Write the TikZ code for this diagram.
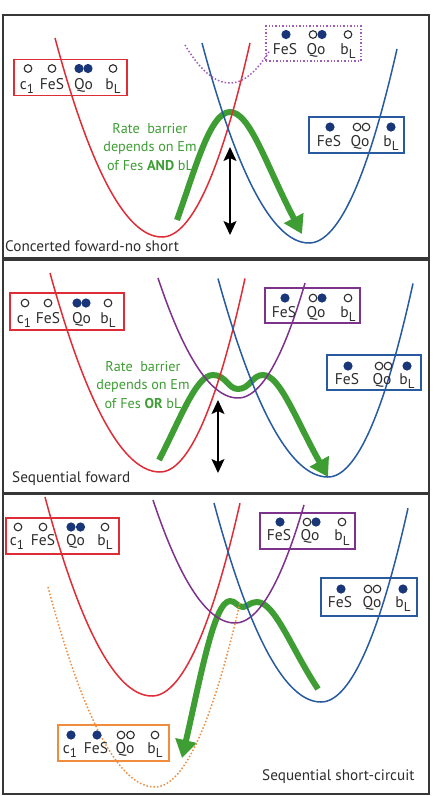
\documentclass[tikz,border=0pt]{standalone}
\usepackage{fontspec}
\setmainfont{PT Sans}
\usetikzlibrary{arrows.meta}
\definecolor{cred}{RGB}{222,45,55}
\definecolor{cblue}{RGB}{40,90,160}
\definecolor{cpurple}{RGB}{125,50,140}
\definecolor{cpurpled}{RGB}{160,90,185}
\definecolor{corange}{RGB}{240,140,60}
\definecolor{cgreen}{RGB}{62,158,52}
\definecolor{cnavy}{RGB}{25,55,120}
\definecolor{cframe}{RGB}{55,55,55}
\definecolor{ctext}{RGB}{45,45,45}
\newcommand\lowsub[1]{\raisebox{-0.32em}{\fontsize{13}{13}\selectfont #1}}
\newcommand\well[7]{\draw[#1] plot[domain=#4:#5, samples=90, smooth] ({#2+\x},{#3-ifthenelse(\x<0,#6,#7)*\x*\x});}
\newcommand\dotO[2]{\draw[opn] (#1,#2) circle (3.8pt);}
\newcommand\dotF[2]{\fill[cnavy] (#1,#2) circle (4.6pt);}
\tikzset{
 frame/.style={draw=cframe, line width=2pt},
 box/.style={line width=1.4pt, inner sep=0pt},
 lbl/.style={anchor=base, inner sep=0pt, text=ctext, font=\fontsize{15.5}{15.5}\selectfont},
 opn/.style={draw=ctext, line width=1.1pt},
 gtext/.style={text=cgreen, font=\fontsize{14.2}{18.4}\selectfont, align=center, inner sep=0pt},
 captxt/.style={text=ctext, font=\fontsize{15.2}{16}\selectfont, inner sep=0pt},
 curve/.style={line width=1.5pt},
 garrow/.style={draw=cgreen, line width=6pt, line join=round, -{Triangle[length=18pt,width=21pt]}},
 barrow/.style={black, line width=1.6pt, {Stealth[length=14pt,width=13pt,inset=3pt]}-{Stealth[length=14pt,width=13pt,inset=3pt]}},
}
\begin{document}
\begin{tikzpicture}[x=1pt,y=-1pt]
\useasboundingbox (0,0) rectangle (434,796);
\fill[white] (0,0) rectangle (434,796);
% frames
\draw[frame] (3,15) rectangle (429,258);
\draw[frame] (3,260) rectangle (429,493);
\draw[frame] (3,494) rectangle (429,794);

% ===== Panel 1 =====
\draw[garrow] (177,220) .. controls (195,170) and (210,112) .. (230,112) .. controls (250,112) and (266,165) .. (302,234);
\well{curve,cred}{162}{237}{-107}{88}{0.01738}{0.02505}
\well{curve,cblue}{309}{243}{-107}{88}{0.01747}{0.02505}
\well{curve,cpurpled,dotted}{230}{83}{-45}{40}{0.0188}{0.0206}
\coordinate (a1t) at (230,147);
\coordinate (a1b) at (230,235);
\draw[barrow] (a1t) -- (a1b);
\node[gtext] (g1) at (150,147) {Rate\ \ barrier\\depends on Em\\of Fes \textbf{AND} bL};
\node[captxt, anchor=base west] (cap1) at (5,251) {Concerted foward-no short};
% red box P1
\node[box, draw=cred, minimum width=113pt, minimum height=36pt] (r1) at (70.5,77.5) {};
\dotO{28}{68.5} \dotO{52}{68.5} \dotF{79}{68.5} \dotF{88}{68.5} \dotO{113}{68.5}
\node[lbl] (r1a) at (27,89) {c\lowsub{1}};
\node[lbl] (r1b) at (52,89) {FeS};
\node[lbl] (r1c) at (83.5,89) {Qo};
\node[lbl] (r1d) at (113,89) {b\lowsub{L}};
% purple dotted box P1
\node[box, draw=cpurpled, dotted, minimum width=95pt, minimum height=35pt] (p1) at (313.5,43.5) {};
\dotF{286}{34.5} \dotO{313}{34.5} \dotF{322}{34.5} \dotO{348}{34.5}
\node[lbl] (p1b) at (285,54) {FeS};
\node[lbl] (p1c) at (316,54) {Qo};
\node[lbl] (p1d) at (348,54) {b\lowsub{L}};
% blue box P1
\node[box, draw=cblue, minimum width=95pt, minimum height=36pt] (b1) at (356.5,135) {};
\dotF{330}{127} \dotO{357}{127} \dotO{366}{127} \dotF{391}{127}
\node[lbl] (b1b) at (329,146) {FeS};
\node[lbl] (b1c) at (360,146) {Qo};
\node[lbl] (b1d) at (391,146) {b\lowsub{L}};

% ===== Panel 2 =====
\draw[garrow] (159,460) .. controls (180,420) and (196,375) .. (213,375) .. controls (226,375) and (228,389) .. (238,389) .. controls (250,389) and (252,375) .. (263,375) .. controls (280,375) and (296,420) .. (328,477);
\well{curve,cred}{160}{472}{-110}{85}{0.01645}{0.0268}
\well{curve,cpurple}{238}{398}{-80}{67}{0.01875}{0.0256}
\well{curve,cblue}{328}{477}{-110}{85}{0.0164}{0.0268}
\coordinate (a2t) at (218,400);
\coordinate (a2b) at (218,473);
\draw[barrow] (a2t) -- (a2b);
\node[gtext] (g2) at (143,385) {Rate\ \ barrier\\depends on Em\\of Fes \textbf{OR} bL};
\node[captxt, anchor=base west] (cap2) at (12,482.5) {Sequential foward};
% red box P2
\node[box, draw=cred, minimum width=114pt, minimum height=37pt] (r2) at (67,311.5) {};
\dotO{25}{303} \dotO{48}{303} \dotF{77}{303} \dotF{86}{303} \dotO{108}{303}
\node[lbl] (r2a) at (24,323) {c\lowsub{1}};
\node[lbl] (r2b) at (48,323) {FeS};
\node[lbl] (r2c) at (81.5,323) {Qo};
\node[lbl] (r2d) at (108,323) {b\lowsub{L}};
% purple box P2
\node[box, draw=cpurple, minimum width=95pt, minimum height=35pt] (p2) at (312.5,305.5) {};
\dotF{285}{298} \dotO{313}{298} \dotF{322}{298} \dotO{348}{298}
\node[lbl] (p2b) at (284,317) {FeS};
\node[lbl] (p2c) at (316,317) {Qo};
\node[lbl] (p2d) at (348,317) {b\lowsub{L}};
% blue box P2
\node[box, draw=cblue, minimum width=94pt, minimum height=35pt] (b2) at (374,372.5) {};
\dotF{348}{366} \dotO{379}{366} \dotO{388}{366} \dotF{407}{366}
\node[lbl] (b2b) at (347,384) {FeS};
\node[lbl] (b2c) at (382,384) {Qo};
\node[lbl] (b2d) at (407,384) {b\lowsub{L}};

% ===== Panel 3 =====
\draw[garrow] (318,689) .. controls (292,650) and (275,602) .. (257,602) .. controls (250,602) and (247,607) .. (243,607) .. controls (237,607) and (236,601) .. (230,601) .. controls (214,601) and (200,680) .. (182,758);
\well{curve,cred}{152}{696}{-107}{88}{0.01738}{0.0249}
\well{curve,cpurple}{235}{623}{-82}{69}{0.0183}{0.0248}
\well{curve,cblue}{321}{702}{-107}{87}{0.01738}{0.0256}
\well{curve,corange,dotted}{155}{787}{-107}{85}{0.01747}{0.0255}
\node[captxt, anchor=base west] (cap3) at (262,780) {Sequential short-circuit};
% red box P3
\node[box, draw=cred, minimum width=113pt, minimum height=36pt] (r3) at (62.5,536) {};
\dotO{18}{527} \dotO{43}{527} \dotF{71}{527} \dotF{80.5}{527} \dotO{105}{527}
\node[lbl] (r3a) at (17,545) {c\lowsub{1}};
\node[lbl] (r3b) at (43,545) {FeS};
\node[lbl] (r3c) at (75.5,545) {Qo};
\node[lbl] (r3d) at (105,545) {b\lowsub{L}};
% purple box P3
\node[box, draw=cpurple, minimum width=95pt, minimum height=36pt] (p3) at (307.5,531) {};
\dotF{280}{522} \dotO{307}{522} \dotF{316}{522} \dotO{342}{522}
\node[lbl] (p3b) at (279,540.5) {FeS};
\node[lbl] (p3c) at (310,540.5) {Qo};
\node[lbl] (p3d) at (342,540.5) {b\lowsub{L}};
% blue box P3
\node[box, draw=cblue, minimum width=96pt, minimum height=38pt] (b3) at (369,597) {};
\dotF{341}{589} \dotO{368}{589} \dotO{377}{589} \dotF{403}{589}
\node[lbl] (b3b) at (340,607) {FeS};
\node[lbl] (b3c) at (372,607) {Qo};
\node[lbl] (b3d) at (403,607) {b\lowsub{L}};
% orange box P3
\node[box, draw=corange, minimum width=111pt, minimum height=36pt] (o3) at (113.5,743) {};
\dotF{71}{735} \dotF{97}{735} \dotO{121}{735} \dotO{130.5}{735} \dotO{155}{735}
\node[lbl] (o3a) at (70,753) {c\lowsub{1}};
\node[lbl] (o3b) at (96,753) {FeS};
\node[lbl] (o3c) at (125,753) {Qo};
\node[lbl] (o3d) at (155,753) {b\lowsub{L}};
\end{tikzpicture}
\end{document}
